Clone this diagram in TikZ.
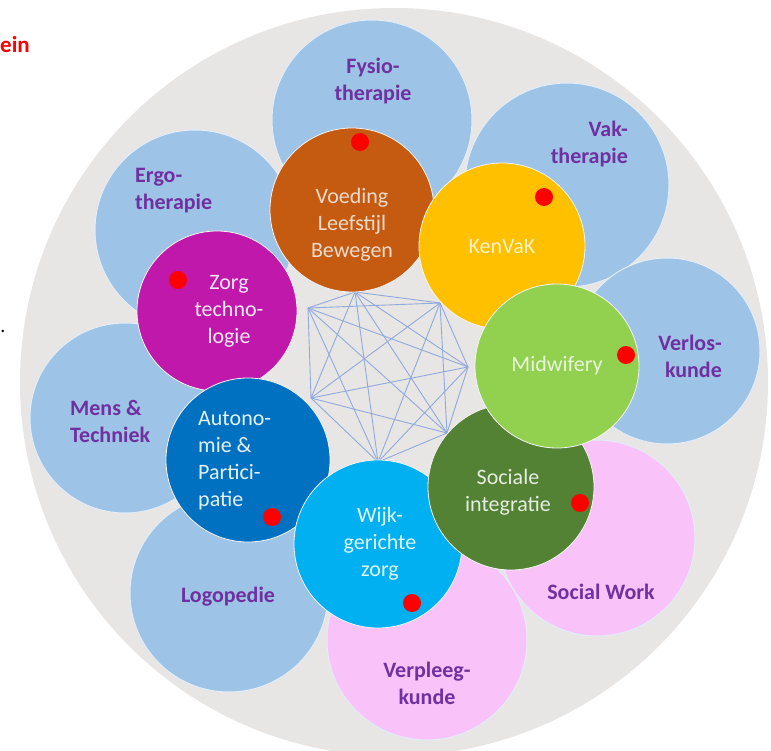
\documentclass[tikz,border=0pt]{standalone}
\usepackage{fontspec}
\setmainfont{Carlito}

\definecolor{achter}{HTML}{E8E5E5}
\definecolor{lichtblauw}{HTML}{9DC3E6}
\definecolor{lichtroze}{HTML}{F9C3F9}
\definecolor{paars}{HTML}{7030A0}
\definecolor{netblauw}{HTML}{8FAADC}
\definecolor{cVoeding}{HTML}{C55A11}
\definecolor{cKenvak}{HTML}{FFC000}
\definecolor{cMidwif}{HTML}{92D050}
\definecolor{cSociaal}{HTML}{548235}
\definecolor{cWijk}{HTML}{00B0F0}
\definecolor{cAutonom}{HTML}{0070C0}
\definecolor{cZorg}{HTML}{C018AA}

\begin{document}
\begin{tikzpicture}
        [x=1pt,y=-1pt,
         vak/.style={circle,draw=white!70!lichtblauw,line width=1pt,inner sep=0pt,minimum size=#1},
         kern/.style={circle,draw=white!60!achter,line width=0.8pt,inner sep=0pt,minimum size=#1},
         vaklbl/.style={text=paars,font=\fontsize{22}{27}\selectfont\bfseries,align=center,inner sep=0pt},
         kernlbl/.style={font=\fontsize{22}{27}\selectfont,align=center,inner sep=0pt},
         reddot/.style={circle,fill=red,inner sep=0pt,minimum size=18pt},
         net/.style={netblauw,line width=0.9pt}]
        \useasboundingbox (0,0) rectangle (771,751);

        \node[circle,fill=achter,inner sep=0pt,minimum size=748pt] (bg) at (394,382) {};

        \node[text=red,font=\fontsize{23}{27}\selectfont\bfseries,anchor=west,inner sep=0pt] (rest) at (0,45) {ein};
        \node[font=\fontsize{20}{24}\selectfont,anchor=base,inner sep=0pt] (punt) at (3,333) {.};

        % buitenste ring: opleidingen
        \node[vak=200pt,fill=lichtblauw] (fysio) at (372,120) {};
        \node[vak=204pt,fill=lichtblauw] (vakth) at (567,185) {};
        \node[vak=186pt,fill=lichtblauw] (verlos) at (667,351) {};
        \node[vak=196pt,fill=lichtroze] (socwork) at (597,538) {};
        \node[vak=200pt,fill=lichtroze] (verpleeg) at (427,640) {};
        \node[vak=198pt,fill=lichtblauw] (logo) at (229,593) {};
        \node[vak=190pt,fill=lichtblauw] (mens) at (125,418) {};
        \node[vak=200pt,fill=lichtblauw] (ergo) at (195,230) {};

        \node[vaklbl] (tfysio) at (373,81) {Fysio-\\therapie};
        \node[vaklbl,align=right,anchor=east] (tvakth) at (628,144) {Vak-\\therapie};
        \node[vaklbl,align=right,anchor=east] (tverlos) at (722,356) {Verlos-\\kunde};
        \node[vaklbl] (tsocwork) at (601,592) {Social Work};
        \node[vaklbl] (tverpleeg) at (427,683) {Verpleeg-\\kunde};
        \node[vaklbl] (tlogo) at (228,597) {Logopedie};
        \node[vaklbl,align=left,anchor=west] (tmens) at (70,421) {Mens \&\\Techniek};
        \node[vaklbl,align=left,anchor=west] (tergo) at (135,191) {Ergo-\\therapie};

        % netwerk tussen de thema's
        \coordinate (v1) at (355,292);
        \coordinate (v2) at (440,303);
        \coordinate (v3) at (468,367);
        \coordinate (v4) at (447,433);
        \coordinate (v5) at (378,462);
        \coordinate (v6) at (311,398);
        \coordinate (v7) at (308,308);
        \foreach \i in {1,...,6}{
          \pgfmathtruncatemacro{\k}{\i+1}
          \foreach \j in {\k,...,7} \draw[net] (v\i) -- (v\j);
        }

        % binnenste ring: thema's
        \node[kern=160pt,fill=cZorg] (zorg) at (217,311) {};
        \node[kern=164pt,fill=cAutonom] (autonom) at (248,460) {};
        \node[kern=168pt,fill=cWijk] (wijk) at (378,544) {};
        \node[kern=166pt,fill=cSociaal] (sociaal) at (511,487) {};
        \node[kern=164pt,fill=cVoeding] (voeding) at (352,210) {};
        \node[kern=166pt,fill=cKenvak] (kenvak) at (502,246) {};
        \node[kern=164pt,fill=cMidwif] (midwif) at (557,366) {};

        \node[kernlbl,text=white!90!cZorg] (tzorg) at (229,311) {Zorg\\techno-\\logie};
        \node[kernlbl,align=left,anchor=west,text=white!90!cAutonom] (tautonom) at (198,461) {Autono-\\mie \&\\Partici-\\patie};
        \node[kernlbl,text=white!88!cWijk] (twijk) at (380,544) {Wijk-\\gerichte\\zorg};
        \node[kernlbl,text=white!85!cSociaal] (tsociaal) at (508,492) {Sociale\\integratie};
        \node[kernlbl,text=white!78!cVoeding] (tvoeding) at (352,225) {Voeding\\Leefstijl\\Bewegen};
        \node[kernlbl,text=white!78!cKenvak] (tkenvak) at (502,247) {KenVaK};
        \node[kernlbl,text=white!80!cMidwif] (tmidwif) at (557,366) {Midwifery};

        \node[reddot] (d1) at (360,142) {};
        \node[reddot] (d2) at (544,197) {};
        \node[reddot] (d3) at (178,280) {};
        \node[reddot] (d4) at (626,355) {};
        \node[reddot] (d5) at (580,503) {};
        \node[reddot] (d6) at (272,517) {};
        \node[reddot] (d7) at (412,603) {};
      \end{tikzpicture}
\end{document}
